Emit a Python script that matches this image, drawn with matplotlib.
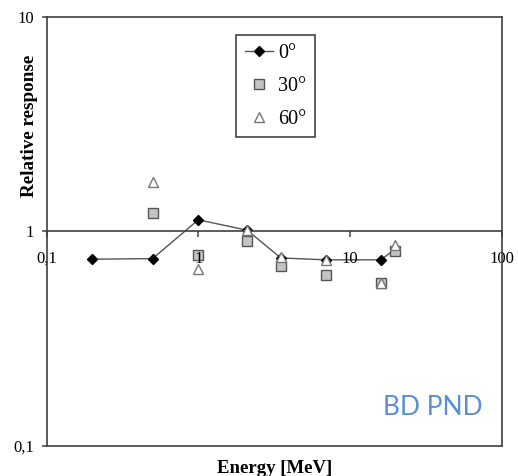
import numpy as np
import matplotlib
matplotlib.use('Agg')
import matplotlib.pyplot as plt

# energies (MeV) and relative response
energy_0 = [0.2, 0.5, 1.0, 2.1, 3.5, 7.0, 16.0, 19.8]
resp_0 = [0.74, 0.745, 1.13, 1.01, 0.75, 0.735, 0.735, 0.825]

energy_30 = [0.5, 1.0, 2.1, 3.5, 7.0, 16.0, 19.8]
resp_30 = [1.22, 0.775, 0.90, 0.69, 0.625, 0.575, 0.81]

energy_60 = [0.5, 1.0, 2.1, 3.5, 7.0, 16.0, 19.8]
resp_60 = [1.70, 0.665, 1.01, 0.755, 0.735, 0.575, 0.86]

x_ticks = [0.1, 1, 10, 100]
x_tick_labels = ['0,1', '1', '10', '100']
y_ticks = [0.1, 1, 10]
y_tick_labels = ['0,1', '1', '10']

serif = ['Liberation Serif', 'DejaVu Serif']
frame_col = '#404040'

fig = plt.figure(figsize=(5.18, 4.76), dpi=100)
ax = fig.add_axes([0.090, 0.0637, 0.8785, 0.9013])

ax.plot(energy_0, resp_0, color='#555555', lw=1.0, marker='D', ms=5.5,
        mfc='black', mec='black', label='0°', zorder=2)
ax.plot(energy_30, resp_30, ls='none', marker='s', ms=7.3, mfc='#c4c4c4',
        mec='#555555', mew=1.0, label='30°', zorder=2.2)
ax.plot(energy_60, resp_60, ls='none', marker='^', ms=7.3, mfc='white',
        mec='#777777', mew=1.0, label='60°', zorder=2.6)

ax.set_xscale('log')
ax.set_yscale('log')
ax.set_xlim(0.1, 100)
ax.set_ylim(0.1, 10)

for s in ax.spines.values():
    s.set_color(frame_col)
    s.set_linewidth(1.2)

ax.set_yticks(y_ticks)
ax.set_yticklabels(y_tick_labels, fontfamily=serif, fontsize=12)
ax.yaxis.set_minor_locator(matplotlib.ticker.NullLocator())
ax.tick_params(axis='y', length=3.6, width=1.1, color=frame_col, pad=5.5)

ax.set_xticks([])
ax.xaxis.set_minor_locator(matplotlib.ticker.NullLocator())

# x axis drawn through y = 1
sec = ax.secondary_xaxis(0.5)
sec.set_alignment('bottom')
sec.set_zorder(2.4)
sec.patch.set_visible(False)
sec.spines['bottom'].set_color(frame_col)
sec.spines['bottom'].set_linewidth(1.2)
sec.set_xticks(x_ticks)
sec.set_xticklabels(x_tick_labels, fontfamily=serif, fontsize=12)
sec.xaxis.set_minor_locator(matplotlib.ticker.NullLocator())
sec.tick_params(axis='x', direction='out', length=4, width=1.1,
                color=frame_col, pad=10)

ax.set_xlabel('Energy [MeV]', fontfamily=serif, fontsize=13.5,
              fontweight='bold')
ax.xaxis.set_label_coords(0.5, -0.034)
ax.set_ylabel('Relative response', fontfamily=serif, fontsize=13.8,
              fontweight='bold')
ax.yaxis.set_label_coords(-0.019, 0.745)

leg = ax.legend(loc='upper left', bbox_to_anchor=(0.417, 0.957),
                borderaxespad=0, fancybox=False, framealpha=1,
                edgecolor='#333333', prop={'family': serif, 'size': 14.5},
                handlelength=1.4, handletextpad=0.25, labelspacing=0.69,
                borderpad=0.42)
leg.get_frame().set_linewidth(1.1)

ax.text(0.959, 0.0886, 'BD PND', transform=ax.transAxes, ha='right',
        va='center', fontsize=19, color='#5b8fd1', fontfamily='Lato')

fig.savefig('out.png', dpi=100)
